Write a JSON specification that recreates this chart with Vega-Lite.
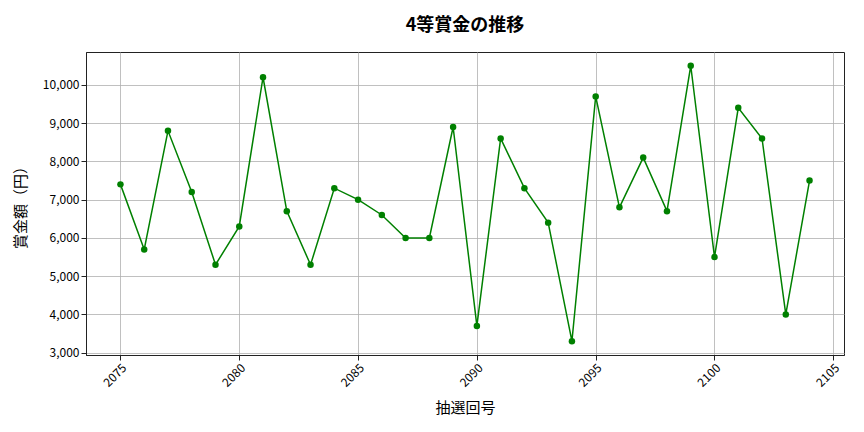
{
  "$schema": "https://vega.github.io/schema/vega-lite/v6.json",
  "width": 758,
  "height": 303,
  "autosize": "none",
  "padding": {"left": 86, "top": 52, "right": 20, "bottom": 77},
  "title": {"text": "4等賞金の推移", "fontSize": 18, "font": "Noto Sans CJK JP", "fontWeight": "bold", "offset": 17},
  "config": {
    "font": "Noto Sans CJK JP",
    "view": {"stroke": "#222222", "strokeWidth": 1},
    "axis": {"gridColor": "#b0b0b0", "gridWidth": 0.8, "domainColor": "#222222", "tickColor": "#222222", "labelFontSize": 12, "labelColor": "#000000", "titleFontSize": 15, "titleFontWeight": "normal", "titleColor": "#000000"}
  },
  "data": {
    "values": [
      {"draw": 2075, "prize": 7400}, {"draw": 2076, "prize": 5700}, {"draw": 2077, "prize": 8800},
      {"draw": 2078, "prize": 7200}, {"draw": 2079, "prize": 5300}, {"draw": 2080, "prize": 6300},
      {"draw": 2081, "prize": 10200}, {"draw": 2082, "prize": 6700}, {"draw": 2083, "prize": 5300},
      {"draw": 2084, "prize": 7300}, {"draw": 2085, "prize": 7000}, {"draw": 2086, "prize": 6600},
      {"draw": 2087, "prize": 6000}, {"draw": 2088, "prize": 6000}, {"draw": 2089, "prize": 8900},
      {"draw": 2090, "prize": 3700}, {"draw": 2091, "prize": 8600}, {"draw": 2092, "prize": 7300},
      {"draw": 2093, "prize": 6400}, {"draw": 2094, "prize": 3300}, {"draw": 2095, "prize": 9700},
      {"draw": 2096, "prize": 6800}, {"draw": 2097, "prize": 8100}, {"draw": 2098, "prize": 6700},
      {"draw": 2099, "prize": 10500}, {"draw": 2100, "prize": 5500}, {"draw": 2101, "prize": 9400},
      {"draw": 2102, "prize": 8600}, {"draw": 2103, "prize": 4000}, {"draw": 2104, "prize": 7500}
    ]
  },
  "encoding": {
    "x": {"field": "draw", "type": "quantitative", "title": "抽選回号",
      "scale": {"domain": [2073.55, 2105.45], "nice": false, "zero": false},
      "axis": {"values": [2075, 2080, 2085, 2090, 2095, 2100, 2105], "format": "d", "labelAngle": -45, "labelAlign": "right", "labelBaseline": "top", "titlePadding": 12}},
    "y": {"field": "prize", "type": "quantitative", "title": "賞金額（円）",
      "scale": {"domain": [2940, 10860], "nice": false, "zero": false},
      "axis": {"values": [3000, 4000, 5000, 6000, 7000, 8000, 9000, 10000], "format": ",d", "titlePadding": 14}}
  },
  "layer": [
    {"mark": {"type": "line", "color": "#008000", "strokeWidth": 1.5}},
    {"mark": {"type": "point", "filled": true, "color": "#008000", "size": 42, "opacity": 1}}
  ]
}
